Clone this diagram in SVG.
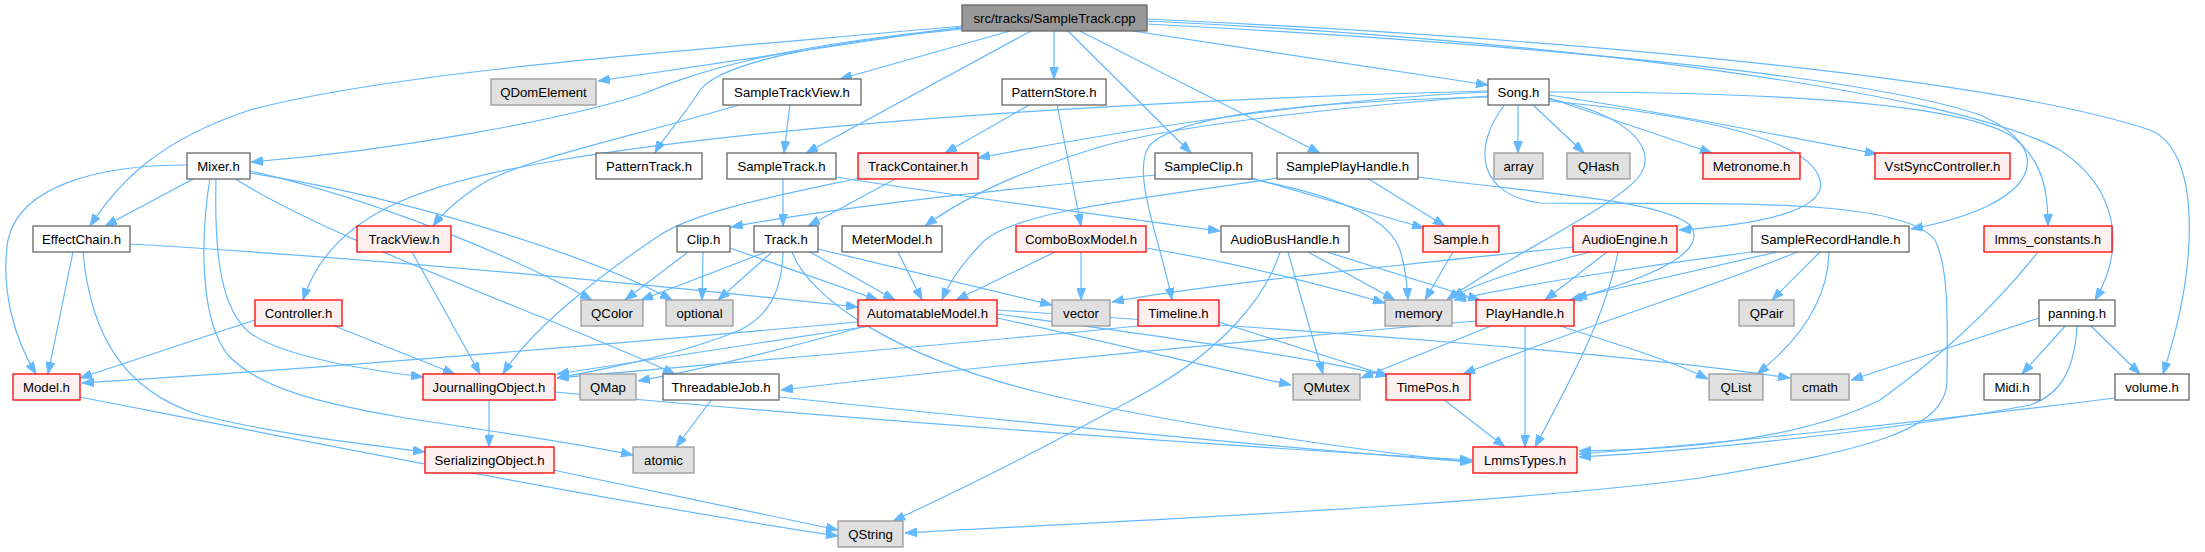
<svg xmlns="http://www.w3.org/2000/svg" width="2205" height="552" viewBox="0 0 2205 552">
<style>
.n rect{stroke-width:1.3}
.w rect{fill:#ffffff;stroke:#666666}
.g rect{fill:#e0e0e0;stroke:#999999}
.r rect{fill:#fff0f0;stroke:#ff0000}
.root rect{fill:#999999;stroke:#666666}
.n text{font-family:"Liberation Sans",Arial,Helvetica,sans-serif;font-size:13.2px;fill:#000;text-anchor:middle}
#edges path{fill:none;stroke:#63b8ff;stroke-width:1.2;marker-end:url(#a)}
</style>
<defs>
<marker id="a" viewBox="0 0 12 9" refX="12" refY="4.5" markerWidth="12" markerHeight="9" markerUnits="userSpaceOnUse" orient="auto"><path d="M0,0 L12,4.5 L0,9 z" fill="#63b8ff" stroke="#63b8ff" stroke-width="0.8"/></marker>
</defs>
<rect width="2205" height="552" fill="#ffffff"/>
<g id="edges">
<!-- root -->
<path d="M962,27 L598,81"/>
<path d="M962,28 C760,48 690,75 640,95 C560,120 400,150 251,162"/>
<path d="M962,26 C700,50 400,70 250,110 C160,140 120,180 90,226"/>
<path d="M962,29 C800,45 720,65 700,90 C685,115 665,135 655,153"/>
<path d="M1010,31 L840,79"/>
<path d="M1031,31 L806,153"/>
<path d="M1054,31 L1054,79"/>
<path d="M1068,31 L1191,153"/>
<path d="M1080,31 L1320,153"/>
<path d="M1133,31 L1488,85"/>
<path d="M1147,24 C1450,40 1850,70 1980,115 C2060,150 2040,205 1911,229"/>
<path d="M1147,21 C1550,40 1950,90 2060,150 C2120,190 2125,250 2095,300"/>
<path d="M1147,19 C1600,40 2000,80 2150,130 C2200,150 2200,260 2163,374"/>
<!-- SampleTrackView -->
<path d="M790,104 L784,153"/>
<path d="M739,105 C620,140 520,160 480,185 C460,198 445,210 433,226"/>
<!-- PatternStore -->
<path d="M1031,104 L945,153"/>
<path d="M1057,104 L1081,226"/>
<!-- Song -->
<path d="M1518,104 L1518,153"/>
<path d="M1532,104 L1584,153"/>
<path d="M1549,98 L1712,153"/>
<path d="M1549,95 C1650,110 1780,135 1877,154"/>
<path d="M1488,92 C1300,100 1100,135 978,158"/>
<path d="M1488,91 C1200,98 800,120 560,160 C420,183 330,215 303,300"/>
<path d="M1488,96 C1300,110 1150,130 1090,150 C1010,175 960,200 925,226"/>
<path d="M1488,97 C1300,102 1180,115 1150,145 C1130,170 1160,240 1172,300"/>
<path d="M1549,99 C1620,112 1660,145 1640,175 C1620,205 1500,260 1447,300"/>
<path d="M1549,101 C1700,115 1810,140 1820,180 C1828,210 1760,225 1679,230"/>
<path d="M1549,92 C1750,92 1950,100 2010,135 C2045,160 2048,195 2048,226"/>
<path d="M1505,104 C1470,150 1480,195 1540,203 C1700,205 1900,195 1935,240 C1950,270 1947,330 1947,380 C1947,430 1870,450 1700,478 C1500,505 1100,522 905,533"/>
<!-- SampleTrack -->
<path d="M783,178 L783,226"/>
<path d="M835,177 C950,195 1100,215 1220,231"/>
<!-- TrackContainer -->
<path d="M897,178 L808,226"/>
<path d="M860,178 C780,195 700,210 660,235 C600,275 530,330 503,374"/>
<!-- SampleClip -->
<path d="M1155,175 C1000,190 850,205 731,227"/>
<path d="M1252,178 L1424,228"/>
<path d="M1245,178 C1340,195 1390,220 1400,250 C1406,270 1407,285 1408,300"/>
<!-- SamplePlayHandle -->
<path d="M1367,178 L1445,226"/>
<path d="M1277,178 C1150,198 1020,210 985,240 C965,260 950,280 942,300"/>
<path d="M1418,177 C1550,195 1660,200 1690,225 C1705,245 1680,270 1570,300"/>
<!-- AudioBusHandle -->
<path d="M1308,252 L1395,300"/>
<path d="M1327,252 L1480,300"/>
<path d="M1288,252 L1323,374"/>
<path d="M1280,252 C1265,300 1220,350 1150,390 C1050,445 960,490 893,521"/>
<!-- AudioEngine -->
<path d="M1573,247 C1400,265 1200,285 1112,302"/>
<path d="M1590,252 C1540,265 1480,280 1452,298"/>
<path d="M1607,252 L1545,300"/>
<path d="M1618,252 C1605,320 1565,390 1535,447"/>
<!-- SampleRecordHandle -->
<path d="M1752,252 C1650,265 1520,285 1454,300"/>
<path d="M1777,252 L1575,298"/>
<path d="M1797,252 C1720,285 1600,320 1463,374"/>
<path d="M1820,252 L1772,300"/>
<path d="M1829,252 C1828,300 1800,340 1757,374"/>
<!-- Sample -->
<path d="M1453,252 L1425,300"/>
<!-- Timeline -->
<path d="M1219,322 L1388,376"/>
<path d="M1138,326 C950,345 700,365 557,378"/>
<!-- PlayHandle -->
<path d="M1476,321 C1200,345 950,370 781,390"/>
<path d="M1491,326 L1361,378"/>
<path d="M1560,326 C1620,345 1670,360 1708,379"/>
<path d="M1525,326 L1525,447"/>
<!-- TimePos -->
<path d="M1443,399 L1505,447"/>
<!-- AutomatableModel -->
<path d="M858,322 C600,345 300,370 82,383"/>
<path d="M870,326 C750,345 640,362 557,374"/>
<path d="M866,326 C780,350 700,370 638,381"/>
<path d="M997,318 C1100,340 1200,365 1291,385"/>
<path d="M997,314 C1150,335 1300,355 1388,376"/>
<path d="M997,310 C1300,330 1600,350 1790,378"/>
<!-- Track -->
<path d="M766,252 L641,300"/>
<path d="M772,252 L718,300"/>
<path d="M783,252 C782,290 770,315 740,330 C680,355 600,370 557,378"/>
<path d="M810,252 L895,300"/>
<path d="M818,249 L1052,305"/>
<path d="M792,252 C810,300 900,360 1050,395 C1200,430 1400,455 1472,462"/>
<!-- Clip -->
<path d="M688,252 L625,300"/>
<path d="M703,252 L702,300"/>
<path d="M730,248 L878,300"/>
<!-- MeterModel -->
<path d="M898,252 L922,300"/>
<!-- ComboBoxModel -->
<path d="M1055,252 L956,300"/>
<path d="M1081,252 L1081,300"/>
<path d="M1146,248 C1250,265 1340,290 1385,303"/>
<!-- Mixer -->
<path d="M195,178 L105,226"/>
<path d="M187,165 C100,165 20,185 8,240 C0,290 15,340 36,374"/>
<path d="M216,178 C214,260 222,310 250,333 C285,358 370,370 423,377"/>
<path d="M210,178 C200,240 200,320 228,355 C260,390 330,405 400,417 C480,430 560,440 633,455"/>
<path d="M234,178 C330,240 560,320 675,374"/>
<path d="M250,171 C380,200 520,260 592,300"/>
<path d="M250,173 C420,200 600,260 672,300"/>
<!-- EffectChain -->
<path d="M73,252 L48,374"/>
<path d="M83,252 C90,330 120,390 200,415 C280,435 370,445 425,452"/>
<path d="M130,244 C400,260 700,290 858,307"/>
<!-- TrackView -->
<path d="M412,252 L480,374"/>
<!-- Controller -->
<path d="M255,320 L80,378"/>
<path d="M332,325 L455,374"/>
<!-- JournallingObject -->
<path d="M489,399 L489,447"/>
<path d="M555,392 C800,415 1200,445 1472,460"/>
<!-- ThreadableJob -->
<path d="M712,399 L676,447"/>
<path d="M779,397 C1000,420 1300,450 1472,462"/>
<!-- SerializingObject, Model -->
<path d="M553,470 L838,530"/>
<path d="M80,397 C300,440 600,500 838,536"/>
<!-- panning -->
<path d="M2039,318 L1851,380"/>
<path d="M2066,325 L2022,374"/>
<path d="M2090,325 L2140,374"/>
<path d="M2077,325 C2075,370 2060,395 2030,405 C1900,430 1700,450 1579,457"/>
<!-- volume, lmms_constants -->
<path d="M2115,398 C1900,425 1700,445 1579,454"/>
<path d="M2038,252 C2000,300 1950,350 1880,400 C1800,440 1680,450 1579,451"/>
</g>
<g id="n_root" class="n root"><rect x="962" y="5" width="185" height="26"/><text x="1054.5" y="22.5">src/tracks/SampleTrack.cpp</text></g>
<g id="n_QDomElement" class="n g"><rect x="491" y="79" width="105" height="26"/><text x="543.5" y="96.5">QDomElement</text></g>
<g id="n_SampleTrackView" class="n w"><rect x="723" y="79" width="138" height="26"/><text x="792" y="96.5">SampleTrackView.h</text></g>
<g id="n_PatternStore" class="n w"><rect x="1002" y="79" width="104" height="26"/><text x="1054" y="96.5">PatternStore.h</text></g>
<g id="n_Song" class="n w"><rect x="1488" y="79" width="61" height="26"/><text x="1518.5" y="96.5">Song.h</text></g>
<g id="n_Mixer" class="n w"><rect x="187" y="153" width="63" height="26"/><text x="218.5" y="170.5">Mixer.h</text></g>
<g id="n_PatternTrack" class="n w"><rect x="596" y="153" width="106" height="26"/><text x="649" y="170.5">PatternTrack.h</text></g>
<g id="n_SampleTrack" class="n w"><rect x="727" y="153" width="109" height="26"/><text x="781.5" y="170.5">SampleTrack.h</text></g>
<g id="n_TrackContainer" class="n r"><rect x="858" y="153" width="120" height="26"/><text x="918" y="170.5">TrackContainer.h</text></g>
<g id="n_SampleClip" class="n w"><rect x="1155" y="153" width="97" height="26"/><text x="1203.5" y="170.5">SampleClip.h</text></g>
<g id="n_SamplePlayHandle" class="n w"><rect x="1277" y="153" width="141" height="26"/><text x="1347.5" y="170.5">SamplePlayHandle.h</text></g>
<g id="n_array" class="n g"><rect x="1494" y="153" width="49" height="26"/><text x="1518.5" y="170.5">array</text></g>
<g id="n_QHash" class="n g"><rect x="1567" y="153" width="63" height="26"/><text x="1598.5" y="170.5">QHash</text></g>
<g id="n_Metronome" class="n r"><rect x="1703" y="153" width="97" height="26"/><text x="1751.5" y="170.5">Metronome.h</text></g>
<g id="n_VstSyncController" class="n r"><rect x="1875" y="153" width="135" height="26"/><text x="1942.5" y="170.5">VstSyncController.h</text></g>
<g id="n_EffectChain" class="n w"><rect x="33" y="226" width="97" height="26"/><text x="81.5" y="243.5">EffectChain.h</text></g>
<g id="n_TrackView" class="n r"><rect x="357" y="226" width="94" height="26"/><text x="404" y="243.5">TrackView.h</text></g>
<g id="n_Clip" class="n w"><rect x="677" y="226" width="53" height="26"/><text x="703.5" y="243.5">Clip.h</text></g>
<g id="n_Track" class="n w"><rect x="754" y="226" width="64" height="26"/><text x="786" y="243.5">Track.h</text></g>
<g id="n_MeterModel" class="n w"><rect x="842" y="226" width="100" height="26"/><text x="892" y="243.5">MeterModel.h</text></g>
<g id="n_ComboBoxModel" class="n r"><rect x="1016" y="226" width="130" height="26"/><text x="1081" y="243.5">ComboBoxModel.h</text></g>
<g id="n_AudioBusHandle" class="n w"><rect x="1221" y="226" width="128" height="26"/><text x="1285" y="243.5">AudioBusHandle.h</text></g>
<g id="n_Sample" class="n r"><rect x="1423" y="226" width="76" height="26"/><text x="1461" y="243.5">Sample.h</text></g>
<g id="n_AudioEngine" class="n r"><rect x="1573" y="226" width="104" height="26"/><text x="1625" y="243.5">AudioEngine.h</text></g>
<g id="n_SampleRecordHandle" class="n w"><rect x="1752" y="226" width="157" height="26"/><text x="1830.5" y="243.5">SampleRecordHandle.h</text></g>
<g id="n_lmms_constants" class="n r"><rect x="1984" y="226" width="128" height="26"/><text x="2048" y="243.5">lmms_constants.h</text></g>
<g id="n_Controller" class="n r"><rect x="255" y="300" width="87" height="26"/><text x="298.5" y="317.5">Controller.h</text></g>
<g id="n_QColor" class="n g"><rect x="581" y="300" width="62" height="26"/><text x="612" y="317.5">QColor</text></g>
<g id="n_optional" class="n g"><rect x="666" y="300" width="67" height="26"/><text x="699.5" y="317.5">optional</text></g>
<g id="n_AutomatableModel" class="n r"><rect x="858" y="300" width="139" height="26"/><text x="927.5" y="317.5">AutomatableModel.h</text></g>
<g id="n_vector" class="n g"><rect x="1052" y="300" width="58" height="26"/><text x="1081" y="317.5">vector</text></g>
<g id="n_Timeline" class="n r"><rect x="1138" y="300" width="81" height="26"/><text x="1178.5" y="317.5">Timeline.h</text></g>
<g id="n_memory" class="n g"><rect x="1385" y="300" width="67" height="26"/><text x="1418.5" y="317.5">memory</text></g>
<g id="n_PlayHandle" class="n r"><rect x="1476" y="300" width="98" height="26"/><text x="1525" y="317.5">PlayHandle.h</text></g>
<g id="n_QPair" class="n g"><rect x="1739" y="300" width="55" height="26"/><text x="1766.5" y="317.5">QPair</text></g>
<g id="n_panning" class="n w"><rect x="2039" y="300" width="76" height="26"/><text x="2077" y="317.5">panning.h</text></g>
<g id="n_Model" class="n r"><rect x="13" y="374" width="67" height="26"/><text x="46.5" y="391.5">Model.h</text></g>
<g id="n_JournallingObject" class="n r"><rect x="423" y="374" width="132" height="26"/><text x="489" y="391.5">JournallingObject.h</text></g>
<g id="n_QMap" class="n g"><rect x="580" y="374" width="56" height="26"/><text x="608" y="391.5">QMap</text></g>
<g id="n_ThreadableJob" class="n w"><rect x="663" y="374" width="116" height="26"/><text x="721" y="391.5">ThreadableJob.h</text></g>
<g id="n_QMutex" class="n g"><rect x="1293" y="374" width="67" height="26"/><text x="1326.5" y="391.5">QMutex</text></g>
<g id="n_TimePos" class="n r"><rect x="1386" y="374" width="84" height="26"/><text x="1428" y="391.5">TimePos.h</text></g>
<g id="n_QList" class="n g"><rect x="1709" y="374" width="54" height="26"/><text x="1736" y="391.5">QList</text></g>
<g id="n_cmath" class="n g"><rect x="1791" y="374" width="58" height="26"/><text x="1820" y="391.5">cmath</text></g>
<g id="n_Midi" class="n w"><rect x="1984" y="374" width="56" height="26"/><text x="2012" y="391.5">Midi.h</text></g>
<g id="n_volume" class="n w"><rect x="2115" y="374" width="74" height="26"/><text x="2152" y="391.5">volume.h</text></g>
<g id="n_SerializingObject" class="n r"><rect x="425" y="447" width="129" height="26"/><text x="489.5" y="464.5">SerializingObject.h</text></g>
<g id="n_atomic" class="n g"><rect x="633" y="447" width="61" height="26"/><text x="663.5" y="464.5">atomic</text></g>
<g id="n_LmmsTypes" class="n r"><rect x="1473" y="447" width="104" height="26"/><text x="1525" y="464.5">LmmsTypes.h</text></g>
<g id="n_QString" class="n g"><rect x="838" y="521" width="65" height="26"/><text x="870.5" y="538.5">QString</text></g>
</svg>
